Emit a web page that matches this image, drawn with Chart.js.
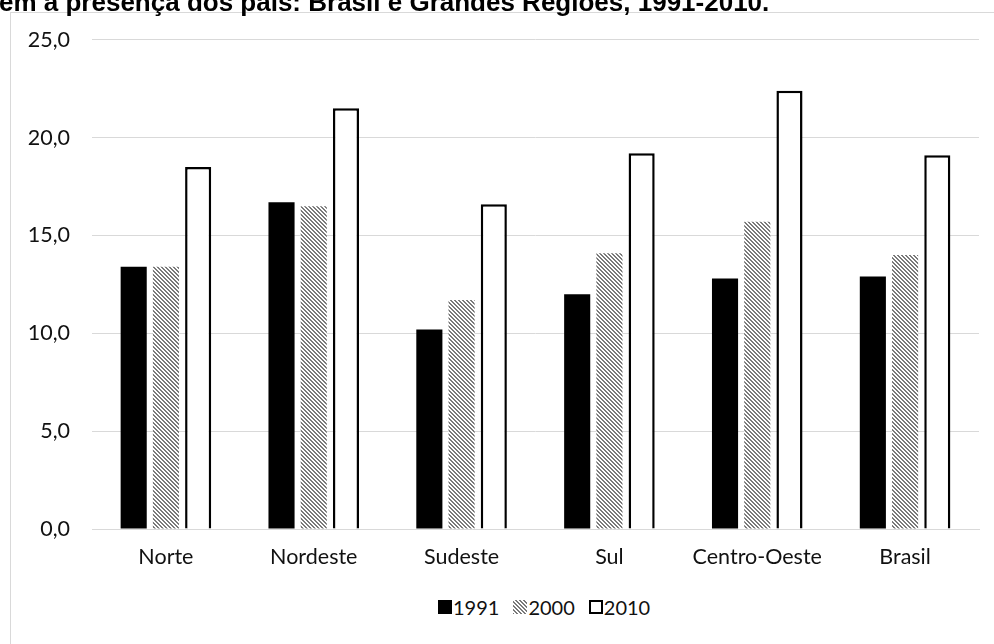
<!DOCTYPE html>
<html>
<head>
<meta charset="utf-8">
<script src="https://cdn.jsdelivr.net/npm/chart.js@4"></script>
<style>
  body { margin: 0; width: 994px; height: 644px; overflow: hidden; background: #fff; position: relative; }
  #title { position: absolute; left: -1px; top: -13px; line-height: 26px; white-space: nowrap;
           font: bold 26px "Liberation Sans", Arial, sans-serif; color: #000; }
  #box { position: absolute; left: 10px; top: 12px; width: 1010px; height: 660px; border: 1px solid #d9d9d9; }
  #cv { position: absolute; left: 0; top: -8px; }
  #legend { position: absolute; left: 427px; top: 582px; display: flex; align-items: center;
            font: 20px Lato, sans-serif; color: #111; }
  .item { display: flex; align-items: center; margin-right: 14px; }
  .sw { width: 14px; height: 14px; box-sizing: border-box; margin-right: 1px; }
</style>
</head>
<body>
<div id="box">
  <canvas id="cv" width="983" height="564"></canvas>
  <div id="legend"></div>
</div>
<div id="title">em a presença dos pais: Brasil e Grandes Regiões, 1991-2010.</div>
<script>
const regions = ['Norte', 'Nordeste', 'Sudeste', 'Sul', 'Centro-Oeste', 'Brasil'];
const years = ['1991', '2000', '2010'];
const v1991 = [13.4, 16.7, 10.2, 12.0, 12.8, 12.9];
const v2000 = [13.4, 16.5, 11.7, 14.1, 15.7, 14.0];
const v2010 = [18.5, 21.5, 16.6, 19.2, 22.4, 19.1];

// diagonal hatch used by the 2000 series
function hatch() {
    const c = document.createElement('canvas');
    c.width = 4; c.height = 4;
    const g = c.getContext('2d');
    g.fillStyle = '#fff';
    g.fillRect(0, 0, 4, 4);
    g.fillStyle = '#7a7a7a';
    for (let y = 0; y < 4; y++)
        for (let x = 0; x < 4; x++)
            if ((((x - y) % 4) + 4) % 4 < 2) g.fillRect(x, y, 1, 1);
    return g.createPattern(c, 'repeat');
}

const ctx = document.getElementById('cv');
const font = { family: 'Lato', size: 21.5 };

new Chart(ctx, {
    type: 'bar',
    data: {
        labels: regions,
        datasets: [
            { label: years[0], data: v1991, backgroundColor: '#000', borderWidth: 0 },
            { label: years[1], data: v2000, backgroundColor: hatch(), borderWidth: 0 },
            { label: years[2], data: v2010, backgroundColor: '#fff', borderColor: '#000', borderWidth: 2.5 }
        ]
    },
    options: {
        responsive: false,
        animation: false,
        layout: { padding: { top: 18, right: 15, left: 0, bottom: 0 } },
        datasets: { bar: { categoryPercentage: 0.654, barPercentage: 0.81 } },
        plugins: { legend: { display: false }, tooltip: { enabled: false } },
        scales: {
            x: {
                grid: { display: false, drawTicks: false },
                border: { display: true, color: '#d9d9d9', width: 1 },
                ticks: { color: '#111', font: font, padding: 15, maxRotation: 0 },
                afterFit: (s) => { s.height = 40; }
            },
            y: {
                min: 0, max: 25,
                grid: { color: '#d9d9d9', lineWidth: 1, drawTicks: false },
                border: { display: false },
                ticks: {
                    stepSize: 5, color: '#111', font: font, padding: 22,
                    callback: (v) => v.toFixed(1).replace('.', ',')
                },
                afterFit: (s) => { s.width = 81; }
            }
        }
    }
});

// legend
const swatches = [
    'background:#000',
    'background:repeating-linear-gradient(45deg,#7a7a7a 0 1.4px,#fff 1.4px 2.8px)',
    'background:#fff;border:2px solid #000'
];
const legend = document.getElementById('legend');
years.forEach((y, i) => {
    const it = document.createElement('div');
    it.className = 'item';
    it.innerHTML = '<span class="sw" style="' + swatches[i] + '"></span><span>' + y + '</span>';
    legend.appendChild(it);
});
</script>
</body>
</html>
